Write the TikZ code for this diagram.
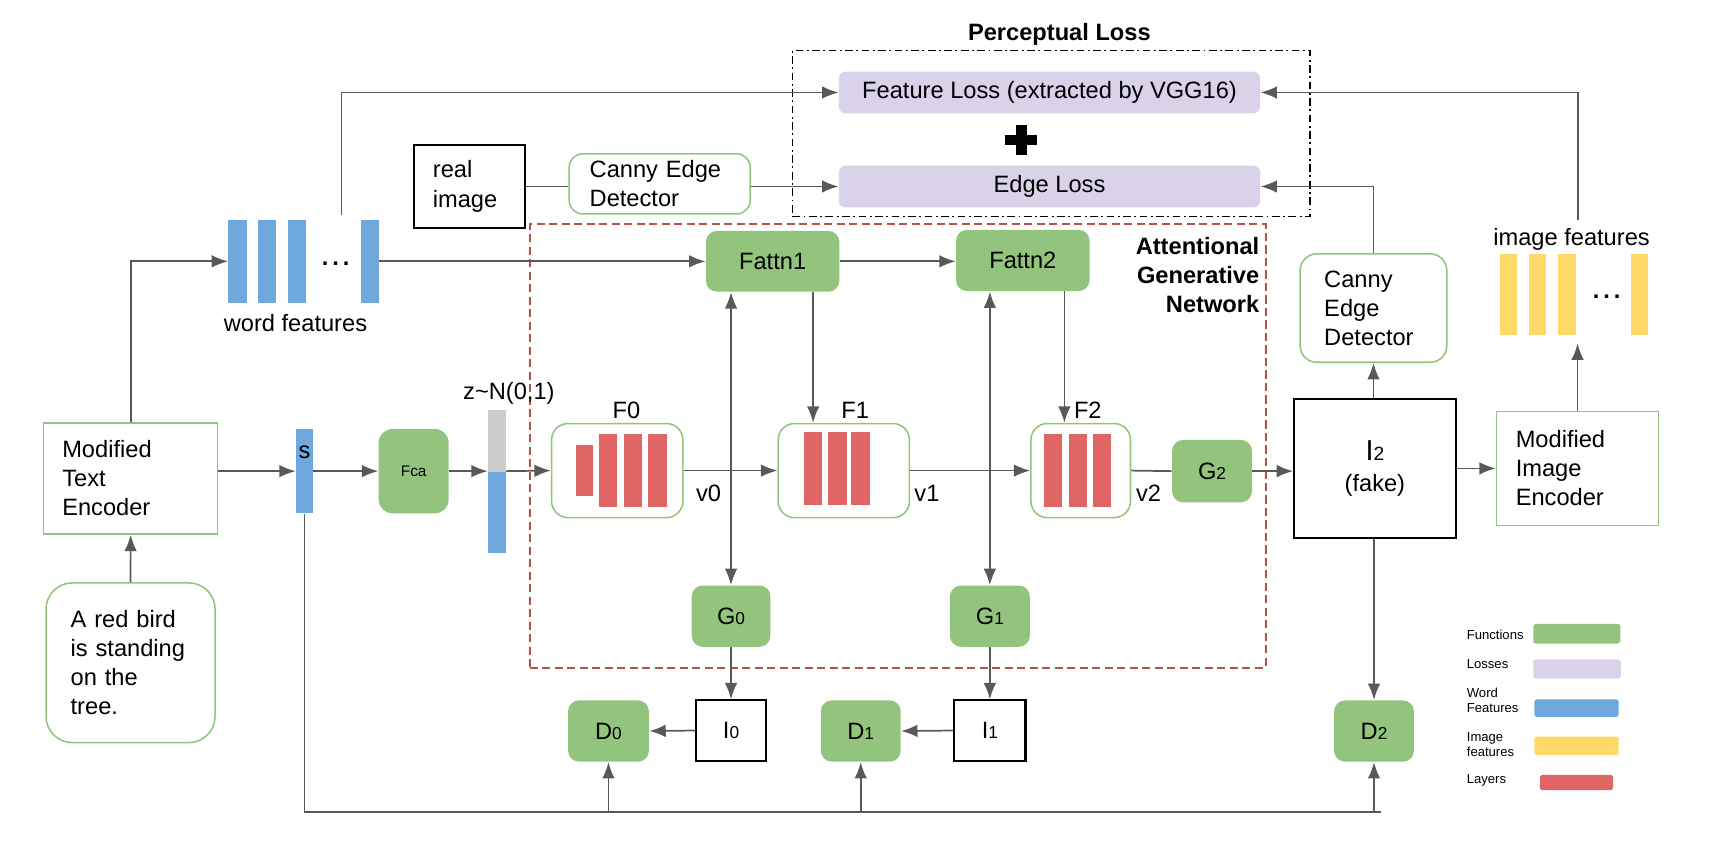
\documentclass[tikz,border=0pt]{standalone}
\usepackage{fontspec}
\setmainfont{Liberation Sans}
\usetikzlibrary{arrows.meta}

\definecolor{fngreen}{HTML}{93C47D}
\definecolor{losspurple}{HTML}{D9D2E9}
\definecolor{wordblue}{HTML}{6FA8DC}
\definecolor{imgyellow}{HTML}{FFD966}
\definecolor{layerred}{HTML}{E06666}
\definecolor{noisegray}{HTML}{CCCCCC}
\definecolor{agnred}{HTML}{B5524C}
\definecolor{linegray}{HTML}{595959}

\newcommand\fsmain{\fontsize{12.3}{15.1}\selectfont}
\newcommand\gidx[1]{{\fontsize{9}{9}\selectfont #1}}

\begin{document}
\begin{tikzpicture}
    [
    x=0.02cm, y=-0.02cm,
    font=\fsmain,
    fn/.style={rectangle,fill=fngreen,rounded corners=0.2cm,inner sep=0pt},
    loss/.style={rectangle,fill=losspurple,rounded corners=0.12cm,inner sep=0pt},
    encbox/.style={rectangle,draw=fngreen,line width=0.8pt,align=left},
    edgebox/.style={rectangle,draw=fngreen,line width=0.8pt,rounded corners=0.25cm,align=left},
    layerbox/.style={rectangle,draw=fngreen,line width=0.8pt,rounded corners=0.3cm,inner sep=0pt},
    img/.style={rectangle,draw=black,line width=1.1pt,inner sep=0pt},
    wbar/.style={fill=wordblue,inner sep=0pt,minimum width=0.33cm,minimum height=1.51cm},
    ibar/.style={fill=imgyellow,inner sep=0pt,minimum width=0.32cm,minimum height=1.49cm},
    lbar/.style={fill=layerred,inner sep=0pt,minimum width=0.34cm},
    legtext/.style={anchor=west,align=left,inner xsep=0pt,font=\fontsize{6.8}{7.7}\selectfont},
    legkey/.style={rounded corners=1pt,inner sep=0pt},
    line/.style={draw=linegray,line width=0.9pt},
    arr/.style={line,-{Latex[length=3mm,width=2.3mm]}},
    ]
    \useasboundingbox (0,0) rectangle (1568,791);

    % perceptual loss
    \node (plbox) at (960.5,122) [draw,line width=0.8pt,dash pattern=on 4pt off 1.8pt on 1pt off 1.8pt,minimum width=9.46cm,minimum height=3.04cm] {};
    \node (pltitle) at (968,31) [font=\fsmain\bfseries] {Perceptual Loss};
    \node (featloss) at (959,84.5) [loss,minimum width=7.7cm,minimum height=0.76cm] {Feature Loss (extracted by VGG16)};
    \node (edgeloss) at (959,170.4) [loss,minimum width=7.7cm,minimum height=0.76cm] {Edge Loss};
    \fill (918,123.2) rectangle (948,132.8);
    \fill (928,114) rectangle (938,142);

    % real image branch
    \node (realimg) at (429.3,170.3) [img,align=left,text width=1.35cm,inner xsep=0.34cm,minimum height=1.51cm] {real\\image};
    \node (cannyL) at (602.8,168) [edgebox,text width=2.56cm,inner xsep=0.375cm,minimum height=1.1cm] {Canny Edge\\Detector};

    % word features
    \node (wf1) at (217,238.8) [wbar] {};
    \node (wf2) at (244,238.8) [wbar] {};
    \node (wf3) at (271,238.8) [wbar] {};
    \node (wfdots) at (306.7,242.5) [anchor=base,font=\fsmain\bfseries] {.\,.\,.};
    \node (wf4) at (337.7,238.8) [wbar] {};
    \node (wflabel) at (270,295) {word features};
    \coordinate (wftop) at (312,196);

    % attentional generative network
    \node (agn) at (820.25,407.5) [draw=agnred,line width=1pt,dash pattern=on 4.2pt off 2.3pt,minimum width=13.45cm,minimum height=8.1cm] {};
    \node (agnlabel) at (1151,251) [anchor=east,align=right,inner xsep=0pt,font=\fsmain\bfseries] {Attentional\\Generative\\Network};
    \node (fattn1) at (706,238.8) [fn,minimum width=2.44cm,minimum height=1.11cm] {Fattn1};
    \node (fattn2) at (934.6,238) [fn,minimum width=2.44cm,minimum height=1.12cm] {Fattn2};

    % text side
    \node (enc) at (119.4,437.2) [encbox,text width=2.5cm,inner xsep=0.34cm,minimum height=2.03cm] {Modified\\Text\\Encoder};
    \node (sent) at (119.3,605.6) [edgebox,rounded corners=0.48cm,text width=2.19cm,inner xsep=0.45cm,minimum height=2.92cm] {A red bird\\is standing\\on the\\tree.};
    \node (s) at (278.3,430.5) [fill=wordblue,inner sep=0pt,minimum width=0.31cm,minimum height=1.54cm] {};
    \node (stext) at (278.3,413) {s};
    \node (fca) at (378,430.5) [fn,rounded corners=0.25cm,font=\fontsize{8}{9}\selectfont,minimum width=1.28cm,minimum height=1.54cm] {Fca};
    \node (zg) at (454,402.8) [fill=noisegray,inner sep=0pt,minimum width=0.32cm,minimum height=1.13cm] {};
    \node (zb) at (454,468.3) [fill=wordblue,inner sep=0pt,minimum width=0.32cm,minimum height=1.49cm] {};
    \node (zlabel) at (465,359) {z\textasciitilde N(0,1)};

    % stages
    \node (f0) at (564,430) [layerbox,minimum width=2.4cm,minimum height=1.72cm,label={[xshift=0.17cm,yshift=-1.5pt]above:F0}] {};
    \node (f0a) at (534,430) [lbar,minimum width=0.32cm,minimum height=0.92cm] {};
    \node (f0b) at (555.5,430) [lbar,minimum height=1.32cm] {};
    \node (f0c) at (578.5,430) [lbar,minimum height=1.32cm] {};
    \node (f0d) at (601,430) [lbar,minimum height=1.32cm] {};
    \node (f1) at (771,430) [layerbox,minimum width=2.4cm,minimum height=1.72cm,label={[xshift=0.21cm,yshift=-1.5pt]above:F1}] {};
    \node (f1a) at (743,428) [lbar,minimum height=1.34cm] {};
    \node (f1b) at (765,428) [lbar,minimum height=1.34cm] {};
    \node (f1c) at (786,428) [lbar,minimum height=1.34cm] {};
    \node (f2) at (987.5,430) [layerbox,minimum width=1.82cm,minimum height=1.72cm,label={[xshift=0.13cm,yshift=-1.5pt]above:F2}] {};
    \node (f2a) at (962,430) [lbar,minimum height=1.32cm] {};
    \node (f2b) at (985,430) [lbar,minimum height=1.32cm] {};
    \node (f2c) at (1007,430) [lbar,minimum height=1.32cm] {};
    \node (v0) at (647.5,450.7) {v0};
    \node (v1) at (847,450.7) {v1};
    \node (v2) at (1049.5,450.7) {v2};
    \node (g2) at (1107.5,430.5) [fn,minimum width=1.46cm,minimum height=1.14cm] {G\gidx{2}};

    % generated image side
    \node (i2) at (1256.3,428) [img,align=center,font=\fontsize{12.3}{16.1}\selectfont,minimum width=2.95cm,minimum height=2.55cm] {{\fontsize{15}{16}\selectfont I}{\fontsize{10}{10}\selectfont 2}\\(fake)};
    \node (cannyR) at (1255,281.5) [edgebox,rounded corners=0.3cm,text width=1.8cm,inner xsep=0.44cm,minimum height=1.98cm] {Canny\\Edge\\Detector};
    \node (mie) at (1441.5,428) [encbox,text width=2.26cm,inner xsep=0.35cm,minimum height=2.08cm] {Modified\\Image\\Encoder};
    \node (if1) at (1378.5,269.2) [ibar] {};
    \node (if2) at (1405,269.2) [ibar] {};
    \node (if3) at (1431.7,269.2) [ibar] {};
    \node (ifdots) at (1468,273) [anchor=base,font=\fsmain\bfseries] {.\,.\,.};
    \node (if4) at (1498,269.2) [ibar] {};
    \node (iflabel) at (1436,219) {image features};
    \coordinate (iftop) at (1442,201);

    % outputs and discriminators
    \node (g0) at (668,563) [fn,minimum width=1.44cm,minimum height=1.12cm] {G\gidx{0}};
    \node (g1) at (904.5,563) [fn,minimum width=1.46cm,minimum height=1.12cm] {G\gidx{1}};
    \node (i0) at (668,667.5) [img,minimum width=1.28cm,minimum height=1.1cm] {I\gidx{0}};
    \node (i1) at (904.5,667.5) [img,minimum width=1.3cm,minimum height=1.1cm] {I\gidx{1}};
    \node (d0) at (556,668) [fn,minimum width=1.48cm,minimum height=1.12cm] {D\gidx{0}};
    \node (d1) at (786.5,668) [fn,minimum width=1.46cm,minimum height=1.12cm] {D\gidx{1}};
    \node (d2) at (1255.5,668) [fn,minimum width=1.46cm,minimum height=1.12cm] {D\gidx{2}};
    \coordinate (busend) at (1262,741.7);

    % legend
    \node (lgfn) at (1340,580) [legtext] {Functions};
    \node (lgfnkey) at (1440.8,579) [legkey,fill=fngreen,minimum width=1.59cm,minimum height=0.36cm] {};
    \node (lgloss) at (1340,606.7) [legtext] {Losses};
    \node (lglosskey) at (1441,611.3) [legkey,fill=losspurple,minimum width=1.6cm,minimum height=0.35cm] {};
    \node (lgword) at (1340,640) [legtext] {Word\\Features};
    \node (lgwordkey) at (1440.5,647) [legkey,fill=wordblue,minimum width=1.54cm,minimum height=0.32cm] {};
    \node (lgimg) at (1340,680) [legtext] {Image\\features};
    \node (lgimgkey) at (1440.5,681.5) [legkey,fill=imgyellow,minimum width=1.54cm,minimum height=0.34cm] {};
    \node (lglayer) at (1340,713) [legtext] {Layers};
    \node (lglayerkey) at (1440.5,715) [legkey,fill=layerred,minimum width=1.34cm,minimum height=0.28cm] {};

    % connectors
    \draw [arr] (sent.north) to (enc.south);
    \draw [arr] (enc.north) |- (wf1.west);
    \draw [arr] (wf4.east) to (wf4.east -| fattn1.west);
    \draw [arr] (wftop) |- (featloss.west);
    \draw [line] (realimg.east) to (realimg.east -| cannyL.west);
    \draw [arr] (cannyL.east |- edgeloss.west) to (edgeloss.west);
    \draw [arr] (iftop) |- (featloss.east);
    \draw [arr] (cannyR.north) |- (edgeloss.east);
    \draw [arr] (enc.east |- s) to (s.west);
    \draw [arr] (s.east) to (fca.west);
    \draw [arr] (fca.east) to (fca.east -| zb.west);
    \draw [arr] (fca.east -| zb.east) to (f0.west);
    \draw [arr] (f0.east) to (f1.west);
    \draw [arr] (f1.east) to (f2.west);
    \draw [line] (f2.east) to (g2.west);
    \draw [arr] (g2.east) to (g2.east -| i2.west);
    \draw [arr] (fattn1.east) to (fattn1.east -| fattn2.west);
    \draw [arr] (fattn1.south -| f1a) to (f1.north -| f1a);
    \coordinate (a2) at ([xshift=0.76cm]fattn2.south);
    \draw [arr] (a2) to (a2 |- f2.north);
    \coordinate (j0) at (g0 |- f0.east);
    \draw [arr] (j0) to (j0 |- fattn1.south);
    \draw [arr] (j0) to (g0.north);
    \coordinate (j1) at (g1 |- f1.east);
    \draw [arr] (j1) to (j1 |- fattn2.south);
    \draw [arr] (j1) to (g1.north);
    \draw [arr] (g0.south) to (i0.north);
    \draw [arr] (i0.west) to (d0.east);
    \draw [arr] (g1.south) to (i1.north);
    \draw [arr] (i1.west) to (d1.east);
    \draw [arr] (i2.north -| cannyR) to (cannyR.south);
    \draw [arr] (i2.east) to (mie.west);
    \draw [arr] (mie.north) to ([yshift=-0.14cm]mie.north |- if3.south);
    \draw [arr] (i2.south -| d2) to (d2.north);
    \draw [line] (s.south) |- (busend);
    \draw [arr] (d0 |- busend) to (d0.south);
    \draw [arr] (d1 |- busend) to (d1.south);
    \draw [arr] (d2 |- busend) to (d2.south);
  \end{tikzpicture}
\end{document}
